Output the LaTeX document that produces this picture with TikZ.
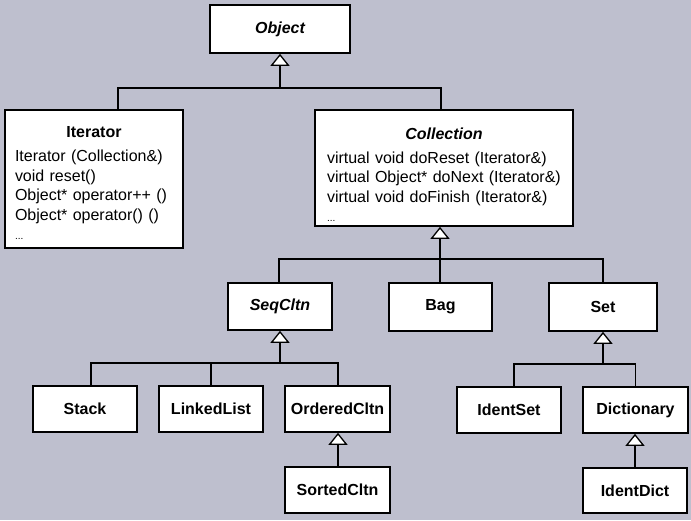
\documentclass[tikz,border=0pt]{standalone}
\usepackage{fontspec}
\setmainfont{Liberation Sans}
\usetikzlibrary{arrows.meta}
\definecolor{paper}{RGB}{190,191,206}
\begin{document}
\begin{tikzpicture}[x=1pt,y=-1pt,
  cls/.style={draw=black, fill=white, line width=1.7pt, inner sep=0pt,
    font=\fontsize{16}{19.5}\selectfont\bfseries},
  absc/.style={cls, font=\fontsize{16}{19.5}\selectfont\bfseries\itshape},
  big/.style={draw=black, fill=white, line width=1.7pt, inner sep=0pt,
    font=\fontsize{16}{19.5}\selectfont, align=left},
  link/.style={line width=1.6pt, draw=black},
  inh/.style={link, -{Triangle[open, fill=white, width=19pt, length=12pt, line width=1.3pt]}}
]
\useasboundingbox[fill=paper] (0,0) rectangle (691,520);

% nodes
\node[absc, minimum width=140pt, minimum height=48pt] (object) at (280,29) {Object};

\node[big, minimum width=178pt, minimum height=138pt, text width=158pt] (iterator) at (94,179)
  {\rule{0pt}{19pt}\makebox[158pt][c]{\bfseries Iterator}\\[4.5pt]
   Iterator (Collection\&)\\
   void reset()\\
   Object* operator++ ()\\
   Object* operator() ()\\
   {\fontsize{10}{4.5}\selectfont ...}};

\node[big, minimum width=258pt, minimum height=116pt, text width=234pt] (collection) at (444,168)
  {\rule{0pt}{24.5pt}\makebox[234pt][c]{\bfseries\itshape Collection}\\[4.5pt]
   virtual void doReset (Iterator\&)\\
   virtual Object* doNext (Iterator\&)\\
   virtual void doFinish (Iterator\&)\\
   {\fontsize{10}{11}\selectfont ...}};

\node[absc, minimum width=104pt, minimum height=47pt] (seqcltn) at (280,306.5) {SeqCltn};
\node[cls, minimum width=103pt, minimum height=48pt] (bag) at (440.5,307) {Bag};
\node[cls, minimum width=108pt, minimum height=48pt] (set) at (603,307) {Set};

\node[cls, minimum width=104pt, minimum height=46pt] (stack) at (85,409) {Stack};
\node[cls, minimum width=104pt, minimum height=46pt] (linkedlist) at (211,409) {LinkedList};
\node[cls, minimum width=105pt, minimum height=46pt] (orderedcltn) at (337.5,409) {OrderedCltn};
\node[cls, minimum width=105pt, minimum height=46pt] (sortedcltn) at (337.5,490) {SortedCltn};

\node[cls, minimum width=104pt, minimum height=46pt] (identset) at (509,410) {IdentSet};
\node[cls, minimum width=105pt, minimum height=46pt] (dictionary) at (635.5,410) {Dictionary};
\node[cls, minimum width=104pt, minimum height=45pt] (identdict) at (635,490.5) {IdentDict};

% junctions
\coordinate (jobj) at (280,88);
\coordinate (jcol) at (440,259);
\coordinate (jseq) at (280,363);
\coordinate (jset) at (603,364);

% Object hierarchy
\draw[link] ([xshift=24pt]iterator.north) |- (jobj) -| ([xshift=-3pt]collection.north);
\draw[inh] (jobj) -- (object.south);

% Collection hierarchy
\draw[link] ([xshift=-1pt]seqcltn.north) |- (jcol) -| (set.north);
\draw[link] (jcol) -- ([xshift=-0.5pt]bag.north);
\draw[inh] (jcol) -- (jcol |- collection.south);

% SeqCltn hierarchy
\draw[link] ([xshift=6pt]stack.north) |- (jseq) -| ([xshift=0.5pt]orderedcltn.north);
\draw[link] (linkedlist.north) -- (linkedlist.north |- jseq);
\draw[inh] (jseq) -- (seqcltn.south);

% Set hierarchy
\draw[link] ([xshift=5pt]identset.north) |- (jset) -| (dictionary.north);
\draw[inh] (jset) -- (set.south);

% single inheritance
\draw[inh] ([xshift=0.5pt]sortedcltn.north) -- ([xshift=0.5pt]orderedcltn.south);
\draw[inh] (identdict.north) -- (identdict.north |- dictionary.south);
\end{tikzpicture}
\end{document}
